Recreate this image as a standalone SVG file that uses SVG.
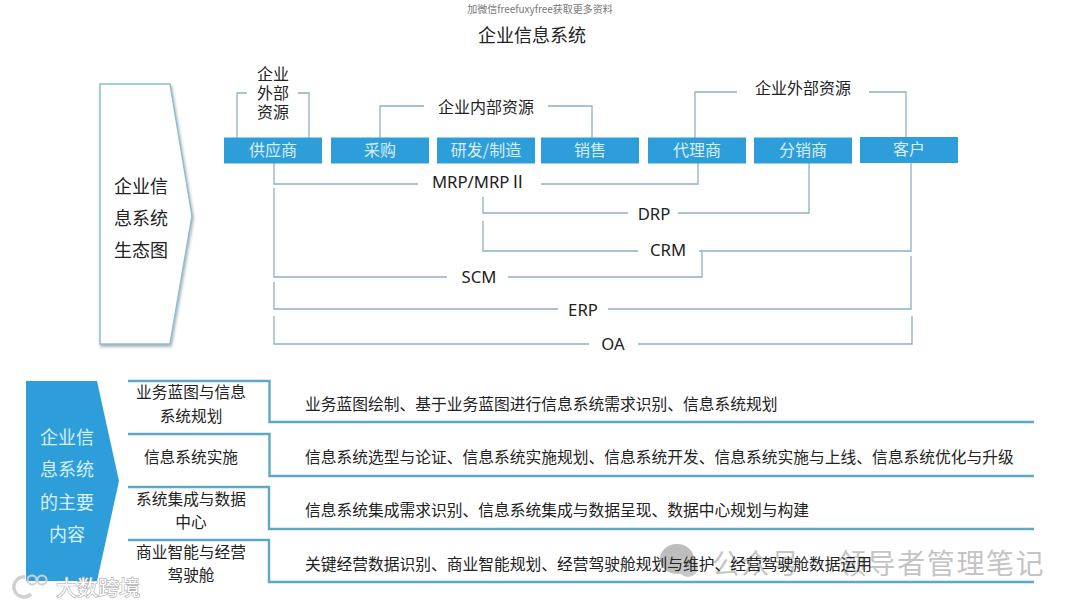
<svg xmlns="http://www.w3.org/2000/svg" width="1080" height="607" viewBox="0 0 1080 607">
<style>
text{font-family:"Noto Sans CJK SC","Noto Sans",sans-serif;text-anchor:middle;fill:#222}
.l{font-size:16px}
.r{font-size:15.7px}
.m{font-size:16.700px;font-family:"Noto Sans","Noto Sans CJK SC",sans-serif}
.b{font-size:16px;fill:#d8eef8}
.h{font-size:18px;fill:#d8f0fa}
.g{font-size:18px}
.d{text-anchor:start;font-size:15.750px}
.k{fill:#2e9edb}
.c{fill:none;stroke:#8fb0c2;stroke-width:1.3}
.u{fill:none;stroke:#5fa9c3;stroke-width:2.4}
.w{fill:#c4c4c4;font-size:28px;text-anchor:start;letter-spacing:1.6px}
</style>
<defs><filter id="s" x="-10%" y="-10%" width="125%" height="125%"><feDropShadow dx="1" dy="2" stdDeviation="1.5" flood-color="#5a6a72" flood-opacity=".55"/></filter></defs>
<rect width="1080" height="607" fill="#fff"/>
<g id="watermark-right">
<ellipse cx="677" cy="559" rx="17" ry="15" fill="#bdbdbd"/>
<circle cx="688" cy="567" r="10" fill="#c8c8c8"/>
<text class="w" x="712" y="574">公众号<tspan x="838">领导者管理笔记</tspan></text>
</g>
<text x="540" y="13" style="font-size:10px;fill:#777">加微信freefuxyfree获取更多资料</text>
<text x="532" y="42" style="font-size:18px">企业信息系统</text>
<g id="connectors">
<path class="c" d="M237 138V93H247M298 93H309V138"/>
<path class="c" d="M380 138V106H424M548 106H592V138"/>
<path class="c" d="M695 138V92H737M869 92H906V138"/>
<path class="c" d="M274 163V184H418M541 184H698V163"/>
<path class="c" d="M483 197V213H628M678 213H809V163"/>
<path class="c" d="M483 221V251H638M699 251H911V163"/>
<path class="c" d="M274 188V277H447M508 277H702V252"/>
<path class="c" d="M274 282V309H558M608 309H911V256"/>
<path class="c" d="M274 316V344H589M638 344H912V316"/>
</g>
<g id="eco-arrow"><polygon points="100,84 170,84 192,216 170,344 100,344" fill="#fff" stroke="#8cc0d2" stroke-width="1.5" filter="url(#s)"/>
<text class="g" x="141" y="193">企业信</text><text class="g" x="141" y="225">息系统</text><text class="g" x="141" y="257">生态图</text></g>
<g id="res-supplier"><text class="l" x="273" y="80">企业</text><text class="l" x="273" y="99">外部</text><text class="l" x="273" y="118">资源</text></g>
<g id="res-internal"><text class="l" x="486" y="113">企业内部资源</text></g>
<g id="res-external"><text class="l" x="803" y="94">企业外部资源</text></g>
<g id="n1"><rect class="k" x="224" y="137.500" width="98" height="26"/><text class="b" x="273" y="156">供应商</text></g>
<g id="n2"><rect class="k" x="331" y="137.500" width="98" height="26"/><text class="b" x="380" y="156">采购</text></g>
<g id="n3"><rect class="k" x="437" y="137.500" width="98" height="26"/><text class="b" x="486" y="156">研发/制造</text></g>
<g id="n4"><rect class="k" x="541" y="137.500" width="98" height="26"/><text class="b" x="590" y="156">销售</text></g>
<g id="n5"><rect class="k" x="648" y="137.500" width="98" height="26"/><text class="b" x="697" y="156">代理商</text></g>
<g id="n6"><rect class="k" x="754" y="137.500" width="98" height="26"/><text class="b" x="803" y="156">分销商</text></g>
<g id="n7"><rect class="k" x="860" y="137" width="98" height="26"/><text class="b" x="909" y="155">客户</text></g>
<g id="sys-labels">
<text class="m" x="479" y="188">MRP/MRP<tspan style="font-family:'Noto Sans CJK SC',sans-serif">Ⅱ</tspan></text>
<text class="m" x="654" y="220">DRP</text>
<text class="m" x="668" y="256">CRM</text>
<text class="m" x="479" y="283">SCM</text>
<text class="m" x="583" y="316">ERP</text>
<text class="m" x="613" y="350">OA</text>
</g>
<g id="main-arrow"><polygon points="26,381 97,381 119,481 97,581 26,581" fill="#2e9edb"/>
<text class="h" x="67" y="444">企业信</text><text class="h" x="67" y="476">息系统</text><text class="h" x="67" y="509">的主要</text><text class="h" x="67" y="541">内容</text></g>
<g id="row1"><path class="u" d="M128 381H269.500V422H1034"/><text class="r" x="191" y="398">业务蓝图与信息</text><text class="r" x="191" y="422">系统规划</text><text class="d" x="305" y="410">业务蓝图绘制、基于业务蓝图进行信息系统需求识别、信息系统规划</text></g>
<g id="row2"><path class="u" d="M128 434H269.500V476H1034"/><text class="r" x="191" y="463">信息系统实施</text><text class="d" x="305" y="463">信息系统选型与论证、信息系统实施规划、信息系统开发、信息系统实施与上线、信息系统优化与升级</text></g>
<g id="row3"><path class="u" d="M128 487H269V529H1034"/><text class="r" x="191" y="505">系统集成与数据</text><text class="r" x="191" y="528">中心</text><text class="d" x="305" y="516">信息系统集成需求识别、信息系统集成与数据呈现、数据中心规划与构建</text></g>
<g id="row4"><path class="u" d="M128 540H269V582H1034"/><text class="r" x="191" y="558">商业智能与经营</text><text class="r" x="191" y="581">驾驶舱</text><text class="d" x="305" y="570">关键经营数据识别、商业智能规划、经营驾驶舱规划与维护、经营驾驶舱数据运用</text></g>
<g id="watermark-left">
<text x="98" y="595" style="font-size:21px;fill:#fff;stroke:#aaa;stroke-width:1.200;paint-order:stroke">大数跨境</text>
<path d="M25 577A10 10 0 1 0 31 594" fill="none" stroke="#d0d0d0" stroke-width="3.500"/>
<circle cx="32" cy="580" r="4.500" fill="none" stroke="#d0d0d0" stroke-width="2"/><circle cx="42" cy="580" r="4.500" fill="none" stroke="#d0d0d0" stroke-width="2"/>
</g>
</svg>
